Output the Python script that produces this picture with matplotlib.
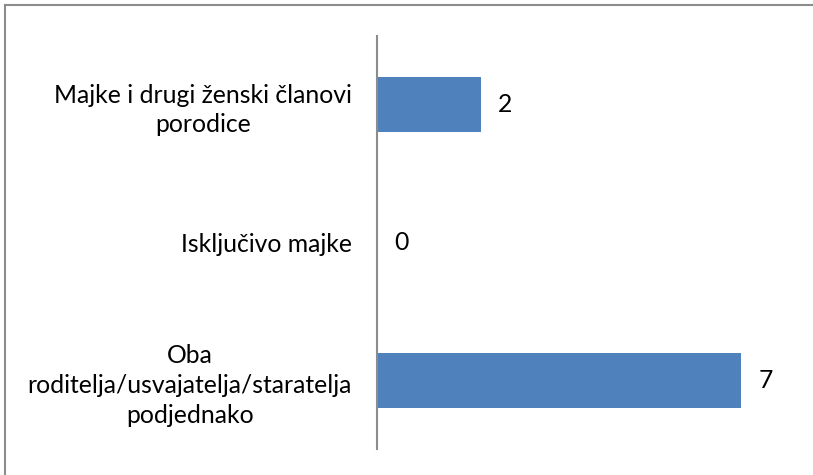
import matplotlib.pyplot as plt
from matplotlib.lines import Line2D

categories = ["Oba\nroditelja/usvajatelja/staratelja\npodjednako",
              "Isključivo majke",
              "Majke i drugi ženski članovi\nporodice"]
values = [7, 0, 2]

plt.rcParams['font.family'] = ['Lato', 'DejaVu Sans']

fig = plt.figure(figsize=(8.13, 4.75), dpi=100)
ax = fig.add_axes([377 / 813, 1 - 449 / 475, 416 / 813, 413 / 475])

pos = range(len(categories))
ax.barh(pos, values, height=0.4, color='#4f81bd')
ax.set_xlim(0, 8)
ax.set_ylim(-0.5, 2.5)

for sp in ['top', 'right', 'bottom']:
    ax.spines[sp].set_visible(False)
ax.spines['left'].set_color('#8c8c8c')
ax.spines['left'].set_linewidth(1.5)
ax.set_xticks([])
ax.set_yticks(list(pos))
ax.set_yticklabels(categories, fontsize=17.8, multialignment='center',
                   linespacing=1.35)
ax.tick_params(axis='y', length=0, pad=18)

for p, v in zip(pos, values):
    ax.text(v + 0.33, p, str(v), va='center', ha='left', fontsize=17.8)

# chart frame (only top and left visible in the crop)
fig.add_artist(Line2D([4.5 / 813, 1], [1 - 4.5 / 475, 1 - 4.5 / 475],
                      transform=fig.transFigure, color='#8c8c8c', lw=1.5))
fig.add_artist(Line2D([4.5 / 813, 4.5 / 813], [0, 1 - 4.5 / 475],
                      transform=fig.transFigure, color='#8c8c8c', lw=1.5))

fig.savefig("out.png", dpi=100)
